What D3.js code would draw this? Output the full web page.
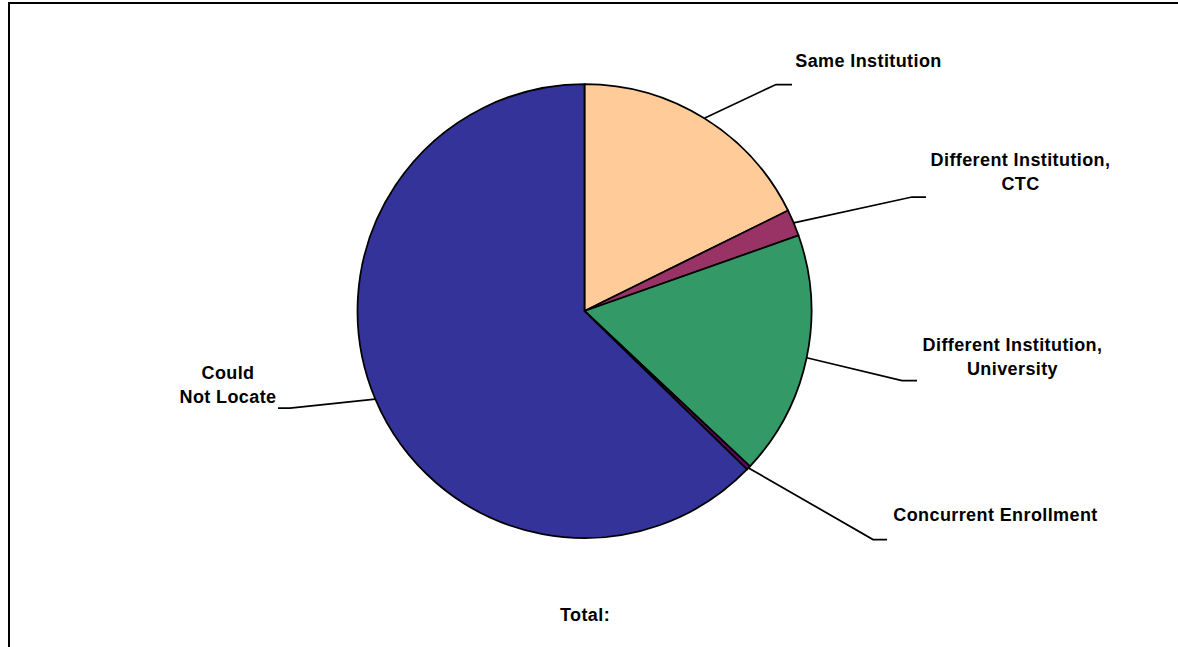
<!DOCTYPE html>
<html>
<head>
<meta charset="utf-8">
<script src="https://cdn.jsdelivr.net/npm/d3@7/dist/d3.min.js"></script>
<style>
  html, body { margin: 0; padding: 0; background: #fff; }
  svg { display: block; }
  text { font-family: Arial, "Liberation Sans", sans-serif; font-weight: bold; font-size: 18px; fill: #000; letter-spacing: 0.4px; }
</style>
</head>
<body>
<div id="chart"></div>
<script>
// ---- data ----
const categories = ["Same Institution", "Different Institution, CTC", "Different Institution, University", "Concurrent Enrollment", "Could Not Locate"];
const values = [17.7, 1.9, 17.4, 0.3, 62.7];
const labelLines = [["Same Institution"], ["Different Institution,", "CTC"], ["Different Institution,", "University"], ["Concurrent Enrollment"], ["Could", "Not Locate"]];
const colors = ["#FFCC99", "#993366", "#339966", "#660066", "#333399"];
const totalLabel = "Total:";

// ---- layout (positions, not data) ----
const W = 1178, H = 647;
const cx = 584.5, cy = 311, R = 227;
const lineGap = 24;
const leader = [
  { elbow: [776, 84.5], end: [792, 84.5], lx: 868.5, ly: 66.5 },
  { elbow: [912, 197], end: [926, 197], lx: 1020.5, ly: 166 },
  { elbow: [902, 380.5], end: [917, 380.5], lx: 1012.5, ly: 351 },
  { elbow: [873, 539.5], end: [887, 539.5], lx: 995.5, ly: 521 },
  { elbow: [290, 408], end: [278, 408], lx: 228, ly: 379 }
];

const svg = d3.select("#chart").append("svg").attr("width", W).attr("height", H);

// border frame
svg.append("rect").attr("x", 9).attr("y", 3).attr("width", W + 20).attr("height", H + 20)
  .attr("fill", "none").attr("stroke", "#000").attr("stroke-width", 2);

const pie = d3.pie().sort(null).value(d => d);
const arcs = pie(values);
const arc = d3.arc().innerRadius(0).outerRadius(R);

const g = svg.append("g").attr("transform", `translate(${cx},${cy})`);
g.selectAll("path.slice").data(arcs).enter().append("path")
  .attr("class", "slice")
  .attr("d", arc)
  .attr("fill", (d, i) => colors[i])
  .attr("stroke", "#000").attr("stroke-width", 1.75).attr("stroke-linejoin", "round");

// leader lines and labels
arcs.forEach((d, i) => {
  const a = (d.startAngle + d.endAngle) / 2;
  const sx = cx + R * Math.sin(a), sy = cy - R * Math.cos(a);
  const L = leader[i];
  svg.append("polyline")
    .attr("points", [[sx, sy], L.elbow, L.end].map(p => p.join(",")).join(" "))
    .attr("fill", "none").attr("stroke", "#000").attr("stroke-width", 1.75);
  const t = svg.append("text").attr("text-anchor", "middle").attr("x", L.lx).attr("y", L.ly);
  labelLines[i].forEach((s, k) => {
    t.append("tspan").attr("x", L.lx).attr("dy", k === 0 ? 0 : lineGap).text(s);
  });
});

svg.append("text").attr("text-anchor", "middle").attr("x", 585).attr("y", 620.5).text(totalLabel);
</script>
</body>
</html>
